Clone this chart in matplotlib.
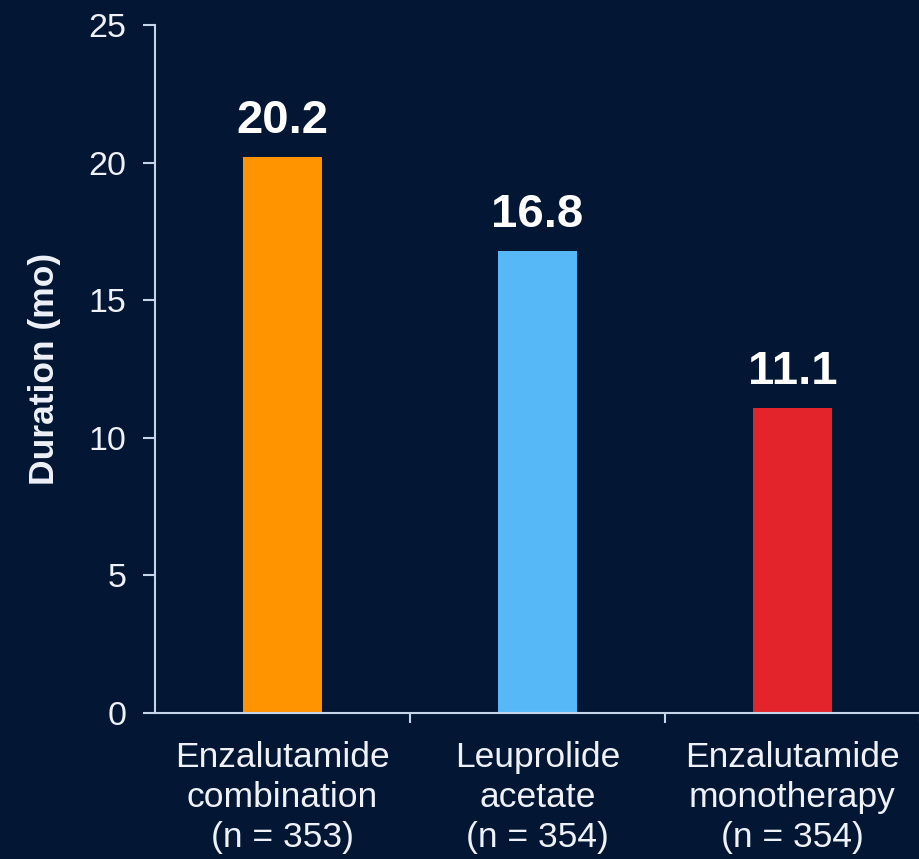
import matplotlib
matplotlib.use("Agg")
import matplotlib.pyplot as plt
from matplotlib.ticker import FixedLocator

categories = ["Enzalutamide\ncombination\n(n = 353)",
              "Leuprolide\nacetate\n(n = 354)",
              "Enzalutamide\nmonotherapy\n(n = 354)"]
durations = [20.2, 16.8, 11.1]
bar_colors = ["#ff9300", "#56b8f7", "#e3252b"]
y_ticks = [0, 5, 10, 15, 20, 25]

bg = "#031634"
axis_col = "#c6d4ea"
text_col = "#eef2f8"

plt.rcParams["font.family"] = ["Liberation Sans", "DejaVu Sans"]

fig = plt.figure(figsize=(9.2, 8.59), dpi=100, facecolor=bg)
ax = fig.add_axes([155 / 920, 1 - 713 / 859, 1 - 155 / 920, (713 - 25) / 859])
ax.set_facecolor(bg)

x = range(len(categories))
ax.bar(x, durations, width=0.31, color=bar_colors, zorder=2)

for xi, v in zip(x, durations):
    ax.annotate(f"{v:.1f}", (xi, v), xytext=(0, 17), textcoords="offset points",
                ha="center", va="baseline", fontsize=34, fontweight="bold",
                color="white")

ax.set_xlim(-0.5, 2.5)
ax.set_ylim(0, 25)
ax.set_yticks(y_ticks)
ax.set_xticks(list(x))
ax.set_xticklabels(categories, fontsize=25.5, color=text_col, linespacing=1.28)
ax.xaxis.set_minor_locator(FixedLocator([0.5, 1.5, 2.5]))
ax.tick_params(axis="x", which="major", length=0, pad=20)
ax.tick_params(axis="x", which="minor", length=7, width=1.5, color=axis_col,
               direction="out")
ax.tick_params(axis="y", length=8.5, width=1.5, color=axis_col, pad=12,
               labelsize=24.5, labelcolor=text_col)

for side in ("top", "right"):
    ax.spines[side].set_visible(False)
for side in ("left", "bottom"):
    ax.spines[side].set_color(axis_col)
    ax.spines[side].set_linewidth(1.5)

ax.set_ylabel("Duration (mo)", fontsize=25.5, fontweight="bold", color=text_col,
              labelpad=20)

fig.savefig("out.png", dpi=100, facecolor=bg)
